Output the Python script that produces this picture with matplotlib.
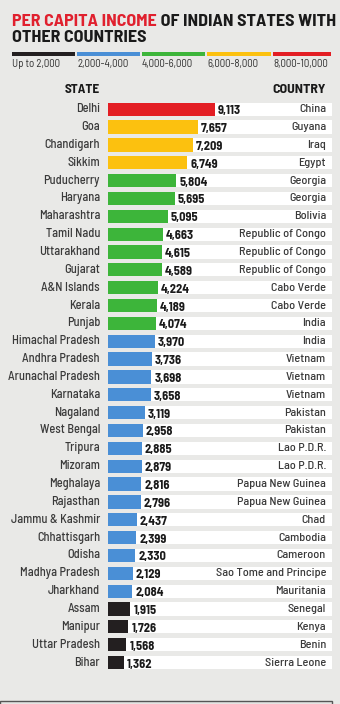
import matplotlib.pyplot as plt
import numpy as np
from matplotlib.text import Annotation
from matplotlib.transforms import blended_transform_factory, offset_copy
from matplotlib.patches import Rectangle

states = ["Delhi", "Goa", "Chandigarh", "Sikkim", "Puducherry", "Haryana",
          "Maharashtra", "Tamil Nadu", "Uttarakhand", "Gujarat", "A&N Islands",
          "Kerala", "Punjab", "Himachal Pradesh", "Andhra Pradesh",
          "Arunachal Pradesh", "Karnataka", "Nagaland", "West Bengal", "Tripura",
          "Mizoram", "Meghalaya", "Rajasthan", "Jammu & Kashmir", "Chhattisgarh",
          "Odisha", "Madhya Pradesh", "Jharkhand", "Assam", "Manipur",
          "Uttar Pradesh", "Bihar"]
income = [9113, 7657, 7209, 6749, 5804, 5695, 5095, 4663, 4615, 4589, 4224,
          4189, 4074, 3970, 3736, 3698, 3658, 3119, 2958, 2885, 2879, 2816,
          2796, 2437, 2399, 2330, 2129, 2084, 1915, 1726, 1568, 1362]
countries = ["China", "Guyana", "Iraq", "Egypt", "Georgia", "Georgia", "Bolivia",
             "Republic of Congo", "Republic of Congo", "Republic of Congo",
             "Cabo Verde", "Cabo Verde", "India", "India", "Vietnam", "Vietnam",
             "Vietnam", "Pakistan", "Pakistan", "Lao P.D.R.", "Lao P.D.R.",
             "Papua New Guinea", "Papua New Guinea", "Chad", "Cambodia",
             "Cameroon", "Sao Tome and Principe", "Mauritania", "Senegal",
             "Kenya", "Benin", "Sierra Leone"]

bin_labels = ["Up to 2,000", "2,000-4,000", "4,000-6,000", "6,000-8,000", "8,000-10,000"]
bin_edges = [0, 2000, 4000, 6000, 8000, 10000]
bin_colors = ["#231f20", "#4a8fd6", "#3db53a", "#fcc10f", "#e31e24"]

W, H = 340, 704
BG = "#e9e9e7"
BODY = ["Barlow Semi Condensed", "DejaVu Sans"]
plt.rcParams["font.family"] = BODY

fig = plt.figure(figsize=(W / 100, H / 100), dpi=100, facecolor=BG)

def fx(x):
    return x / W

def fy(y):
    return 1 - y / H

# title
tsize = 12.9
red = fig.text(fx(12), fy(26.5), "PER CAPITA INCOME", color="#e0202e",
               fontsize=tsize, fontweight="bold", va="baseline")
fig.add_artist(Annotation(" OF INDIAN STATES WITH", xy=(1, 0), xycoords=red,
                          va="bottom", ha="left", fontsize=tsize,
                          fontweight="bold", color="#1a1a1a"))
fig.text(fx(12), fy(41.5), "OTHER COUNTRIES", color="#1a1a1a",
         fontsize=tsize, fontweight="bold", va="baseline")

# colour key
seg_x = [12, 77, 142, 207, 273, 333]
for i in range(5):
    fig.add_artist(Rectangle((fx(seg_x[i]), fy(56)), fx(seg_x[i + 1] - seg_x[i] - 2),
                             4 / H, transform=fig.transFigure,
                             color=bin_colors[i], lw=0))
    fig.text(fx(seg_x[i]), fy(64), bin_labels[i], fontsize=7.8,
             color="#333333", va="center", ha="left")

fig.text(fx(100), fy(89.5), "STATE", fontsize=9.5, fontweight="bold",
         color="#1a1a1a", ha="right", va="center")
fig.text(fx(326), fy(89.5), "COUNTRY", fontsize=10, fontweight="bold",
         color="#1a1a1a", ha="right", va="center")

# bars
pitch = 17.85
top = 109.2 - pitch / 2
n = len(states)
ax = fig.add_axes([fx(108), fy(top + n * pitch), fx(224), n * pitch / H])
ax.set_facecolor("none")
xmax = 224 / 0.01174
y = np.arange(n)
cols = [bin_colors[np.searchsorted(bin_edges, v, side="right") - 1] for v in income]
ax.barh(y, [xmax] * n, height=0.74, color="white", lw=0)
ax.barh(y, income, height=0.74, color=cols, lw=0)
ax.set_xlim(0, xmax)
ax.set_ylim(n - 0.5, -0.5)
ax.axis("off")

trans_lab = offset_copy(blended_transform_factory(ax.transAxes, ax.transData),
                        fig=fig, x=-8, y=0, units="dots")
trans_cty = offset_copy(blended_transform_factory(ax.transAxes, ax.transData),
                        fig=fig, x=-6, y=0, units="dots")
trans_val = offset_copy(ax.transData, fig=fig, x=3, y=-1.5, units="dots")
for i in range(n):
    ax.text(0, i, states[i], transform=trans_lab, ha="right", va="center",
            fontsize=8.9, fontweight="medium", color="#3a3a3a")
    ax.text(1, i, countries[i], transform=trans_cty, ha="right", va="center",
            fontsize=8.8, fontweight="medium", color="#3a3a3a")
    ax.text(income[i], i, f"{income[i]:,}", transform=trans_val, ha="left",
            va="center", fontsize=9, fontweight="bold", color="#1a1a1a")

# bottom panel
fig.add_artist(Rectangle((fx(0), fy(716)), fx(332), 15 / H,
                         transform=fig.transFigure, facecolor="#e4e4e2",
                         edgecolor="#555555", lw=1))

fig.savefig("out.png", dpi=100, facecolor=BG)
